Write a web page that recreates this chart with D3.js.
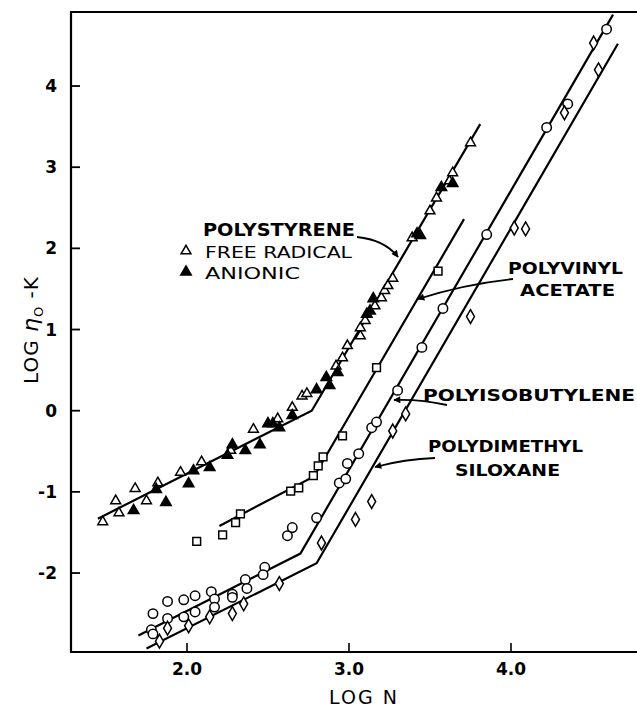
<!DOCTYPE html>
<html><head><meta charset="utf-8">
<script src="https://cdn.jsdelivr.net/npm/d3@7"></script>
<style>body{margin:0;background:#fff}svg{display:block}</style>
</head><body><svg id="c" width="637" height="708"></svg>
<script>
// ---- data (LOG N, LOG eta0 - K) ----
const xTicks = [2, 3, 4];
const xTickLabels = ["2.0", "3.0", "4.0"];
const yTicks = [-2, -1, 0, 1, 2, 3, 4];
const yTickLabels = ["-2", "-1", "0", "1", "2", "3", "4"];

const psFreeRadical = [[1.48,-1.37],[1.56,-1.11],[1.58,-1.26],[1.68,-0.96],[1.75,-1.11],[1.82,-0.89],[1.96,-0.76],[2.09,-0.63],[2.27,-0.49],[2.41,-0.23],[2.56,-0.10],[2.65,0.04],[2.71,0.18],[2.74,0.21],[2.92,0.55],[2.96,0.65],[2.99,0.80],[3.07,0.92],[3.07,1.02],[3.10,1.11],[3.16,1.29],[3.20,1.39],[3.22,1.48],[3.24,1.54],[3.27,1.63],[3.39,2.13],[3.50,2.46],[3.54,2.62],[3.62,2.83],[3.64,2.93],[3.75,3.30]];
const psAnionic = [[1.67,-1.23],[1.81,-0.97],[1.87,-1.13],[2.01,-0.90],[2.04,-0.74],[2.14,-0.70],[2.25,-0.55],[2.28,-0.42],[2.36,-0.49],[2.45,-0.42],[2.50,-0.16],[2.53,-0.16],[2.57,-0.21],[2.65,-0.06],[2.80,0.26],[2.86,0.41],[2.88,0.31],[2.93,0.47],[3.11,1.19],[3.13,1.23],[3.15,1.38],[3.42,2.18],[3.44,2.16],[3.57,2.75],[3.64,2.80]];
const pvaPoints = [[2.06,-1.61],[2.22,-1.53],[2.30,-1.38],[2.33,-1.27],[2.64,-0.99],[2.69,-0.95],[2.78,-0.80],[2.81,-0.68],[2.84,-0.57],[2.96,-0.31],[3.17,0.53],[3.55,1.72]];
const pibPoints = [[1.79,-2.50],[1.78,-2.70],[1.79,-2.75],[1.88,-2.35],[1.88,-2.56],[1.98,-2.33],[1.98,-2.54],[2.05,-2.28],[2.05,-2.48],[2.15,-2.23],[2.17,-2.32],[2.17,-2.42],[2.28,-2.26],[2.28,-2.30],[2.36,-2.08],[2.37,-2.19],[2.48,-1.93],[2.47,-2.02],[2.62,-1.54],[2.65,-1.44],[2.80,-1.32],[2.94,-0.89],[2.98,-0.84],[2.99,-0.65],[3.06,-0.53],[3.14,-0.21],[3.17,-0.14],[3.30,0.25],[3.45,0.78],[3.58,1.26],[3.85,2.17],[4.22,3.49],[4.35,3.78],[4.59,4.70]];
const pdmsPoints = [[1.83,-2.84],[1.88,-2.68],[2.01,-2.65],[2.14,-2.54],[2.28,-2.50],[2.35,-2.38],[2.57,-2.13],[2.83,-1.63],[3.04,-1.34],[3.14,-1.12],[3.27,-0.25],[3.35,-0.04],[3.75,1.16],[4.02,2.25],[4.09,2.24],[4.33,3.67],[4.54,4.20],[4.51,4.53]];

const psLine = [[1.45,-1.33],[2.77,0.0],[3.81,3.53]];
const pvaLine = [[2.20,-1.42],[2.784,-0.81],[3.71,2.36]];
const pibLine = [[1.70,-2.77],[2.70,-1.76],[4.63,4.88]];
const pdmsLine = [[1.75,-2.93],[2.80,-1.88],[4.66,4.52]];

const xTitle = "LOG N";
const labelPS = "POLYSTYRENE", labelFR = "FREE RADICAL", labelAN = "ANIONIC";
const labelPVA = ["POLYVINYL", "ACETATE"];
const labelPIB = "POLYISOBUTYLENE";
const labelPDMS = ["POLYDIMETHYL", "SILOXANE"];

// ---- layout ----
const svg = d3.select("#c");
const x = d3.scaleLinear().domain([1.284, 4.7778]).range([71, 637]);
const y = d3.scaleLinear().domain([-2.973, 4.912]).range([652, 12]);
const FONT = "'DejaVu Sans', Verdana, sans-serif";

// axes lines
svg.append("line").attr("x1",71).attr("x2",71).attr("y1",12).attr("y2",652).attr("stroke","#000").attr("stroke-width",2.2);
svg.append("line").attr("x1",70).attr("x2",637).attr("y1",652).attr("y2",652).attr("stroke","#000").attr("stroke-width",2.2);
svg.append("line").attr("x1",70).attr("x2",637).attr("y1",12).attr("y2",12).attr("stroke","#000").attr("stroke-width",2.2);

// x ticks
svg.selectAll(".xt").data(xTicks).enter().append("line")
  .attr("x1",d=>x(d)).attr("x2",d=>x(d)).attr("y1",652).attr("y2",643).attr("stroke","#000").attr("stroke-width",1.6);
svg.selectAll(".xl").data(xTicks).enter().append("text")
  .attr("x",d=>x(d)).attr("y",675).attr("text-anchor","middle")
  .attr("font-family",FONT).attr("font-weight","bold").attr("font-size",17)
  .text((d,i)=>xTickLabels[i]);
// y ticks
svg.selectAll(".yt").data(yTicks).enter().append("line")
  .attr("x1",71).attr("x2",80).attr("y1",d=>y(d)).attr("y2",d=>y(d)).attr("stroke","#000").attr("stroke-width",1.8);
svg.selectAll(".yl").data(yTicks).enter().append("text")
  .attr("x",57).attr("y",d=>y(d)+6).attr("text-anchor","end")
  .attr("font-family",FONT).attr("font-weight","bold").attr("font-size",17)
  .text((d,i)=>yTickLabels[i]);

// axis titles
svg.append("text").attr("x",364).attr("y",704).attr("text-anchor","middle")
  .attr("font-family",FONT).attr("font-size",19).attr("letter-spacing",2).text(xTitle);
const yt = svg.append("text").attr("transform","translate(38,330) rotate(-90)").attr("text-anchor","middle")
  .attr("font-family",FONT).attr("font-size",20).attr("letter-spacing",1);
yt.append("tspan").text("LOG ");
yt.append("tspan").attr("font-style","italic").attr("font-size",22).text("η");
yt.append("tspan").attr("font-size",13).attr("dy",5).text("O");
yt.append("tspan").attr("dy",-5).text(" -K");

// fitted lines
const lineGen = d3.line().x(d=>x(d[0])).y(d=>y(d[1]));
[psLine,pvaLine,pibLine,pdmsLine].forEach(L=>{
  svg.append("path").attr("d",lineGen(L)).attr("fill","none").attr("stroke","#000").attr("stroke-width",2.2);
});

// markers
function pts(data, type, size, filled){
  svg.append("g").selectAll("path").data(data).enter().append("path")
    .attr("d", d3.symbol().type(type).size(size))
    .attr("transform", d=>`translate(${x(d[0])},${y(d[1])})`)
    .attr("fill", filled ? "#000" : "#fff").attr("stroke","#000").attr("stroke-width",1.5);
}
pts(pvaPoints, d3.symbolSquare, 60, false);
pts(pibPoints, d3.symbolCircle, 70, false);
pts(pdmsPoints, d3.symbolDiamond, 55, false);
pts(psFreeRadical, d3.symbolTriangle, 42, false);
pts(psAnionic, d3.symbolTriangle, 48, true);

// legend markers
svg.append("path").attr("d",d3.symbol().type(d3.symbolTriangle).size(42)()).attr("transform","translate(186,251)").attr("fill","#fff").attr("stroke","#000").attr("stroke-width",1.5);
svg.append("path").attr("d",d3.symbol().type(d3.symbolTriangle).size(48)()).attr("transform","translate(186,272)").attr("fill","#000").attr("stroke","#000").attr("stroke-width",1.5);

// annotation texts
function label(t, xx, yy, len, bold, fs){
  svg.append("text").attr("x",xx).attr("y",yy).attr("font-family",FONT)
    .attr("font-weight", bold ? "bold" : "normal").attr("font-size",fs)
    .attr("textLength",len).attr("lengthAdjust","spacingAndGlyphs").text(t);
}
label(labelPS, 203, 236, 152, true, 17);
label(labelFR, 205, 258, 147, false, 16);
label(labelAN, 205, 279, 95, false, 16);
label(labelPVA[0], 508, 274, 115, true, 16);
label(labelPVA[1], 520, 296, 95, true, 16);
label(labelPIB, 423, 401, 212, true, 16);
label(labelPDMS[0], 428, 452, 155, true, 16);
label(labelPDMS[1], 455, 476, 105, true, 16);

// arrows
svg.append("defs").append("marker").attr("id","ah").attr("viewBox","0 0 10 10")
  .attr("refX",9).attr("refY",5).attr("markerWidth",9).attr("markerHeight",7).attr("orient","auto")
  .attr("markerUnits","userSpaceOnUse")
  .append("path").attr("d","M0,0 L10,5 L0,10 Z").attr("fill","#000");
const arrows = ["M357,237 Q385,240 398,257","M513,279 Q465,284 418,299","M447,405 Q420,399 394,400","M435,458 Q405,459 375,467"];
arrows.forEach(a=>svg.append("path").attr("d",a).attr("fill","none").attr("stroke","#000").attr("stroke-width",1.8).attr("marker-end","url(#ah)"));
</script>
</body></html>
